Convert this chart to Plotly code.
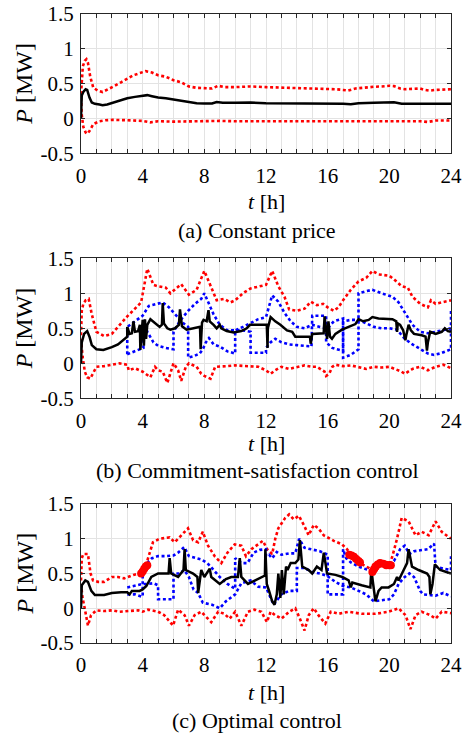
import plotly.graph_objects as go

# ---------------- data ----------------
# (a) Constant price
a_t_mean = [0, 0.05, 0.15, 0.3, 0.4, 0.55, 0.7, 0.9, 1.2, 1.4, 1.7, 2.0, 2.5, 3.0, 3.5, 4.0, 4.3, 4.6, 5.0, 5.5, 6.0, 6.5, 7.0, 7.5, 8.0, 8.5, 8.8, 9.2, 10, 11, 12, 13, 14, 15, 16, 17, 17.5, 18, 19, 20, 20.3, 20.8, 21.5, 22, 22.3, 23, 24]
a_mean = [0.0, 0.33, 0.38, 0.42, 0.41, 0.3, 0.23, 0.21, 0.2, 0.19, 0.2, 0.22, 0.26, 0.29, 0.31, 0.33, 0.335, 0.32, 0.3, 0.29, 0.27, 0.25, 0.23, 0.22, 0.215, 0.215, 0.235, 0.225, 0.225, 0.228, 0.22, 0.22, 0.215, 0.21, 0.21, 0.21, 0.205, 0.22, 0.225, 0.232, 0.232, 0.21, 0.21, 0.215, 0.205, 0.21, 0.21]
a_t_up = [0, 0.05, 0.12, 0.25, 0.35, 0.45, 0.6, 0.8, 1.1, 1.4, 1.8, 2.2, 2.6, 3.0, 3.4, 3.8, 4.2, 4.6, 5.0, 5.5, 6.0, 6.5, 7.0, 7.5, 8.0, 8.5, 8.9, 9.3, 10, 10.5, 11, 12, 13, 14, 15, 15.5, 16, 16.5, 17, 17.3, 17.8, 18.5, 19, 19.5, 20, 20.3, 20.7, 21, 21.5, 22, 22.3, 22.6, 23, 23.5, 24]
a_up = [0.35, 0.6, 0.75, 0.83, 0.85, 0.8, 0.6, 0.44, 0.4, 0.38, 0.42, 0.47, 0.52, 0.57, 0.62, 0.65, 0.68, 0.66, 0.62, 0.6, 0.55, 0.52, 0.46, 0.44, 0.43, 0.43, 0.47, 0.45, 0.45, 0.455, 0.46, 0.45, 0.445, 0.44, 0.435, 0.43, 0.42, 0.42, 0.41, 0.40, 0.43, 0.45, 0.455, 0.46, 0.47, 0.465, 0.43, 0.42, 0.42, 0.43, 0.41, 0.40, 0.41, 0.42, 0.42]
a_t_lo = [0, 0.05, 0.15, 0.3, 0.4, 0.55, 0.8, 1.2, 1.6, 2, 3, 4, 4.5, 5, 6, 7, 8, 9, 10, 11, 12, 13, 14, 15, 16, 17, 18, 19, 20, 21, 22, 22.5, 23, 24]
a_lo = [0.3, 0.05, -0.12, -0.2, -0.22, -0.18, -0.08, -0.04, -0.025, -0.02, -0.025, -0.035, -0.055, -0.04, -0.045, -0.04, -0.04, -0.035, -0.04, -0.04, -0.035, -0.035, -0.04, -0.04, -0.04, -0.04, -0.03, -0.04, -0.04, -0.04, -0.04, -0.05, -0.03, -0.03]

# (b) Commitment-satisfaction control
b_t_mean = [0, 0.05, 0.2, 0.4, 0.55, 0.7, 1.0, 1.45, 2.0, 2.4, 3.0, 3.0, 3.15, 3.3, 3.4, 3.5, 3.7, 3.82, 3.85, 3.95, 4.0, 4.08, 4.15, 4.22, 4.3, 4.5, 4.8, 5.1, 5.25, 5.3, 5.38, 5.6, 5.8, 6.1, 6.35, 6.42, 6.55, 6.85, 7.3, 7.72, 7.76, 7.85, 7.95, 8.15, 8.27, 8.35, 8.6, 8.8, 9.0, 9.1, 9.45, 9.9, 10.4, 10.75, 10.96, 11.5, 12.05, 12.1, 12.12, 12.3, 12.6, 12.93, 13.36, 13.7, 13.9, 14.5, 14.85, 14.9, 15.0, 15.74, 15.8, 15.96, 16.05, 16.15, 16.28, 16.5, 16.93, 17.36, 17.8, 18.0, 18.3, 18.66, 18.9, 19.3, 20.2, 20.45, 20.5, 20.55, 20.7, 20.9, 21.04, 21.1, 21.25, 21.4, 21.6, 22.1, 22.35, 22.44, 22.5, 22.65, 23.0, 23.4, 23.6, 23.8, 24]
b_mean = [0.0, 0.3, 0.42, 0.46, 0.38, 0.26, 0.2, 0.19, 0.23, 0.27, 0.38, 0.52, 0.42, 0.43, 0.6, 0.45, 0.46, 0.55, 0.19, 0.5, 0.62, 0.25, 0.63, 0.35, 0.55, 0.63, 0.57, 0.52, 0.55, 0.86, 0.57, 0.5, 0.48, 0.5, 0.55, 0.77, 0.53, 0.48, 0.5, 0.52, 0.2, 0.58, 0.62, 0.6, 0.76, 0.6, 0.55, 0.5, 0.55, 0.5, 0.46, 0.44, 0.46, 0.5, 0.55, 0.55, 0.55, 0.22, 0.5, 0.66, 0.6, 0.55, 0.47, 0.45, 0.38, 0.38, 0.38, 0.28, 0.42, 0.43, 0.67, 0.35, 0.6, 0.38, 0.35, 0.42, 0.48, 0.52, 0.56, 0.63, 0.6, 0.62, 0.66, 0.64, 0.63, 0.6, 0.45, 0.57, 0.55, 0.47, 0.33, 0.4, 0.55, 0.47, 0.42, 0.4, 0.38, 0.18, 0.3, 0.45, 0.42, 0.45, 0.5, 0.46, 0.45]
b_t_up = [0, 0.05, 0.15, 0.3, 0.5, 0.7, 1.0, 1.5, 2.0, 2.5, 3.0, 3.5, 3.9, 4.3, 4.7, 5.0, 5.5, 5.8, 6.3, 6.5, 7.0, 7.5, 8.0, 8.5, 8.8, 9.3, 9.7, 10.0, 10.5, 11.0, 11.6, 12.0, 12.4, 12.8, 13.2, 13.5, 14.0, 14.5, 14.9, 15.3, 15.7, 16.0, 16.4, 16.7, 17.0, 17.5, 18.0, 18.5, 18.9, 19.3, 20.0, 20.3, 20.8, 21.2, 21.5, 22.0, 22.5, 22.7, 23.0, 23.5, 24]
b_up = [0.4, 0.75, 0.85, 0.9, 0.92, 0.7, 0.45, 0.39, 0.42, 0.55, 0.67, 0.78, 0.87, 1.35, 1.12, 1.1, 1.08, 1.0, 1.1, 1.13, 0.98, 1.05, 1.32, 1.05, 0.9, 0.92, 0.87, 0.9, 1.0, 1.07, 1.1, 1.12, 1.32, 1.1, 0.95, 0.77, 0.75, 0.78, 0.88, 0.83, 0.85, 0.8, 0.75, 0.8, 0.9, 1.05, 1.17, 1.22, 1.32, 1.27, 1.25, 1.2, 1.1, 1.08, 0.95, 0.85, 0.8, 0.9, 0.85, 0.87, 0.9]
b_t_lo = [0, 0.1, 0.25, 0.4, 0.6, 1.0, 1.5, 2.0, 2.5, 3.0, 3.1, 3.5, 4.0, 4.5, 4.8, 5.0, 5.3, 5.6, 5.9, 6.0, 6.3, 6.5, 6.8, 7.0, 7.5, 7.8, 8.0, 8.4, 8.7, 9.0, 9.5, 10.0, 10.5, 11.0, 11.5, 12.0, 12.3, 12.6, 13.0, 13.5, 14.0, 14.5, 15.0, 15.3, 15.8, 15.9, 16.1, 16.3, 16.5, 17.0, 17.5, 18.0, 18.5, 19.0, 19.5, 20.0, 20.4, 20.8, 21.0, 21.5, 22.0, 22.5, 23.0, 23.5, 24.0]
b_lo = [0.35, 0.1, -0.12, -0.2, -0.22, -0.05, -0.04, -0.02, 0.0, -0.02, -0.1, -0.07, -0.12, -0.2, -0.05, -0.1, -0.12, -0.28, -0.05, 0.0, -0.1, -0.25, -0.05, 0.0, -0.05, -0.15, -0.18, -0.22, -0.05, -0.05, -0.04, -0.03, -0.04, -0.05, -0.05, -0.1, -0.15, -0.1, -0.05, -0.08, -0.05, -0.03, -0.05, -0.05, -0.12, -0.18, -0.15, -0.05, -0.02, -0.04, -0.03, -0.05, -0.08, -0.05, -0.06, -0.05, -0.08, -0.12, -0.15, -0.08, -0.05, -0.1, -0.05, -0.02, -0.07]
b_t_blue1 = [3, 3, 3.5, 4.0, 4.4, 4.8, 5.3, 5.7, 6.2, 6.6, 6.95, 6.95, 7.3, 7.7, 7.9, 8.1, 8.3, 8.6, 9.0, 9.5, 10.0, 10.0, 10.5, 11.0, 11.5, 12.0, 12.4, 12.8, 13.2, 13.6, 14.0, 14.5, 15.0, 15.5, 16.0, 16.4, 17.0, 17.0, 17.5, 18.0, 18.0, 18.5, 18.9, 19.5, 20.2, 20.6, 21.0, 21.5, 22.0, 22.5, 23.0, 23.5, 24.0]
b_blue1 = [0.13, 0.52, 0.6, 0.68, 0.82, 0.84, 0.87, 0.8, 0.68, 0.58, 0.52, 0.08, 0.1, 0.14, 0.2, 0.3, 0.36, 0.27, 0.24, 0.17, 0.14, 0.47, 0.52, 0.58, 0.63, 0.66, 0.97, 0.88, 0.72, 0.6, 0.52, 0.5, 0.55, 0.52, 0.5, 0.6, 0.64, 0.08, 0.12, 0.2, 1.0, 1.03, 1.05, 1.0, 0.95, 0.87, 0.72, 0.55, 0.45, 0.43, 0.45, 0.48, 0.5]
b_t_blue2 = [3.0, 3.5, 3.9, 4.05, 4.05, 4.3, 4.7, 5.0, 5.5, 6.0, 6.0, 6.4, 6.95, 7.4, 7.8, 8.0, 8.3, 8.6, 9.0, 9.5, 10.0, 10.5, 11.0, 11.0, 12.0, 12.0, 12.3, 12.6, 13.0, 13.5, 14.0, 14.5, 14.95, 15.0, 15.5, 15.9, 15.9, 16.3, 16.6, 17.0, 17.0, 17.5, 18.0, 18.5, 19.0, 19.5, 20.0, 20.5, 21.0, 21.5, 22.0, 22.5, 22.9, 23.3, 24.0, 24.0]
b_blue2 = [0.13, 0.17, 0.2, 0.22, 0.62, 0.45, 0.3, 0.25, 0.22, 0.2, 0.45, 0.6, 0.75, 0.85, 0.92, 1.0, 0.85, 0.7, 0.55, 0.47, 0.47, 0.47, 0.45, 0.15, 0.15, 0.22, 0.3, 0.35, 0.3, 0.27, 0.26, 0.25, 0.24, 0.68, 0.68, 0.68, 0.3, 0.22, 0.2, 0.18, 0.6, 0.62, 0.62, 0.57, 0.52, 0.5, 0.5, 0.48, 0.35, 0.27, 0.2, 0.14, 0.12, 0.14, 0.2, 0.77]

# (c) Optimal control
c_t_mean = [0, 0.05, 0.28, 0.45, 0.67, 0.9, 1.5, 2.0, 2.6, 3.0, 3.15, 3.3, 3.8, 4.0, 4.24, 4.56, 5.0, 5.5, 5.68, 5.75, 5.85, 6.3, 6.5, 6.65, 6.72, 6.8, 7.27, 7.55, 7.6, 7.8, 8.0, 8.35, 8.45, 9.0, 9.4, 9.75, 10.18, 10.3, 10.4, 10.83, 11.3, 11.7, 11.93, 11.96, 12.05, 12.2, 12.4, 12.55, 12.7, 12.8, 12.93, 13.03, 13.15, 13.3, 13.4, 13.6, 13.9, 14.1, 14.2, 14.35, 14.77, 15.0, 15.3, 15.6, 15.75, 15.96, 16.5, 16.95, 17.36, 17.5, 17.6, 18.2, 18.77, 18.83, 19.0, 19.1, 19.3, 19.5, 19.95, 20.3, 20.5, 20.6, 20.93, 21.15, 21.25, 21.47, 21.9, 22.45, 22.6, 22.66, 22.8, 22.95, 23.3, 24]
c_mean = [0.0, 0.33, 0.4, 0.38, 0.25, 0.19, 0.19, 0.22, 0.23, 0.23, 0.2, 0.25, 0.25, 0.27, 0.32, 0.45, 0.5, 0.5, 0.5, 0.72, 0.5, 0.45, 0.5, 0.55, 0.85, 0.55, 0.5, 0.45, 0.22, 0.55, 0.45, 0.57, 0.45, 0.35, 0.42, 0.45, 0.45, 0.72, 0.45, 0.35, 0.4, 0.45, 0.47, 0.85, 0.35, 0.25, 0.1, 0.05, 0.2, 0.5, 0.15, 0.55, 0.2, 0.6, 0.55, 0.65, 0.65, 0.7, 0.98, 0.6, 0.55, 0.5, 0.6, 0.55, 0.8, 0.5, 0.48, 0.45, 0.4, 0.3, 0.37, 0.33, 0.3, 0.55, 0.25, 0.1, 0.25, 0.3, 0.3, 0.35, 0.45, 0.4, 0.55, 0.65, 0.85, 0.6, 0.55, 0.5, 0.45, 0.2, 0.35, 0.63, 0.55, 0.5]
c_t_up = [0, 0.05, 0.15, 0.3, 0.45, 0.62, 0.78, 1.1, 1.5, 2.0, 2.4, 2.8, 3.4, 3.8, 4.2, 4.35, 4.67, 5.1, 5.75, 6.08, 6.5, 6.94, 7.27, 7.6, 7.9, 8.24, 8.67, 9.1, 9.5, 9.97, 10.4, 10.7, 11.05, 11.6, 11.8, 12.07, 12.4, 12.6, 12.8, 13.25, 13.5, 13.8, 14.13, 14.45, 14.77, 15.1, 15.4, 15.74, 15.96, 16.4, 16.93, 17.25, 17.5, 17.9, 18.1, 18.66, 19.0, 19.5, 20.0, 20.2, 20.5, 20.8, 21.25, 21.7, 22.1, 22.55, 23.0, 23.4, 24.0]
c_up = [0.4, 0.72, 0.78, 0.78, 0.78, 0.5, 0.4, 0.38, 0.38, 0.45, 0.45, 0.43, 0.48, 0.5, 0.6, 0.72, 0.95, 1.0, 1.02, 0.95, 1.05, 1.15, 0.98, 0.95, 1.1, 0.9, 0.75, 0.65, 0.8, 0.92, 0.9, 0.75, 0.85, 0.93, 0.97, 0.85, 0.78, 1.0, 1.15, 1.3, 1.35, 1.28, 1.33, 1.2, 1.05, 1.2, 1.15, 1.05, 1.02, 0.97, 0.92, 0.85, 0.78, 0.72, 0.65, 0.58, 0.52, 0.62, 0.62, 0.75, 1.0, 1.3, 1.25, 1.05, 1.1, 1.05, 1.25, 1.1, 1.0]
c_t_lo = [0, 0.1, 0.24, 0.45, 0.65, 1.0, 1.5, 2.0, 2.5, 3.0, 3.7, 4.0, 4.35, 5.0, 5.4, 5.97, 6.3, 6.72, 7.0, 7.37, 7.8, 8.1, 8.45, 8.9, 9.3, 9.64, 10.0, 10.4, 10.83, 11.26, 11.7, 12.06, 12.3, 12.6, 13.0, 13.5, 13.9, 14.2, 14.5, 14.77, 15.1, 15.4, 15.85, 16.2, 16.7, 17.36, 18.2, 19.1, 19.95, 20.6, 21.05, 21.37, 21.7, 22.1, 22.66, 23.0, 23.4, 24.0]
c_lo = [0.35, 0.15, 0.0, -0.25, -0.1, -0.03, -0.04, -0.03, -0.05, -0.04, -0.03, -0.05, -0.02, -0.05, -0.1, -0.25, -0.02, -0.1, -0.25, -0.1, -0.05, -0.12, -0.2, -0.05, -0.08, -0.15, -0.05, -0.25, -0.05, -0.02, -0.05, -0.2, -0.05, -0.1, -0.15, -0.05, 0.0, -0.15, -0.32, -0.1, 0.0, -0.1, -0.22, -0.05, -0.08, -0.05, -0.08, -0.08, -0.05, 0.0, -0.1, -0.3, -0.1, -0.05, -0.1, -0.15, -0.05, -0.07]
c_t_blue1 = [3.0, 3.5, 3.9, 4.0, 4.0, 4.3, 4.6, 5.0, 5.5, 6.0, 6.3, 6.7, 7.0, 7.4, 7.8, 8.2, 8.6, 9.0, 9.5, 10.0, 10.0, 10.4, 10.8, 11.2, 11.6, 12.0, 12.0, 12.2, 12.4, 12.7, 13.0, 13.5, 13.9, 14.15, 14.5, 15.0, 15.5, 16.0, 16.0, 16.5, 17.0, 17.0, 17.2, 17.5, 18.0, 18.5, 19.0, 19.5, 20.0, 20.3, 20.7, 21.0, 21.3, 21.6, 22.0, 22.5, 22.9, 23.0, 23.5, 24.0, 24.0]
c_blue1 = [0.2, 0.2, 0.17, 0.17, 0.55, 0.65, 0.72, 0.75, 0.75, 0.76, 0.8, 0.88, 0.75, 0.72, 0.7, 0.65, 0.55, 0.45, 0.35, 0.28, 0.72, 0.65, 0.65, 0.8, 0.84, 0.85, 0.75, 0.77, 0.72, 0.81, 0.77, 0.79, 0.79, 1.0, 0.87, 0.85, 0.82, 0.77, 0.2, 0.2, 0.2, 0.85, 0.72, 0.66, 0.6, 0.56, 0.53, 0.64, 0.65, 0.68, 0.85, 0.9, 0.78, 0.82, 0.83, 0.85, 0.93, 0.6, 0.57, 0.55, 0.75]
c_t_blue2 = [3.0, 3.5, 4.0, 4.3, 4.7, 5.0, 5.0, 5.5, 6.0, 6.0, 6.4, 6.7, 7.0, 7.3, 7.6, 7.9, 8.5, 9.0, 9.4, 10.0, 10.4, 11.0, 11.5, 12.0, 12.5, 13.0, 13.5, 14.0, 14.0, 14.5, 15.0, 15.5, 16.0, 16.5, 17.0, 17.5, 18.0, 18.5, 19.0, 19.5, 20.0, 20.3, 20.6, 21.0, 21.3, 21.6, 22.0, 22.2, 23.0, 23.5, 24.0]
c_blue2 = [0.3, 0.33, 0.35, 0.35, 0.36, 0.33, 0.13, 0.13, 0.13, 0.5, 0.5, 0.55, 0.45, 0.27, 0.22, 0.08, 0.05, 0.0, 0.1, 0.2, 0.36, 0.4, 0.31, 0.3, 0.05, 0.2, 0.25, 0.25, 0.58, 0.58, 0.52, 0.5, 0.46, 0.38, 0.32, 0.3, 0.25, 0.2, 0.1, 0.12, 0.13, 0.2, 0.35, 0.45, 0.5, 0.45, 0.25, 0.2, 0.18, 0.22, 0.17]
c_t_mark1 = [3.9, 4.0, 4.1, 4.2, 4.3]
c_mark1 = [0.5, 0.53, 0.57, 0.6, 0.62]
c_t_mark2 = [17.4, 17.55, 17.7, 17.85, 18.0, 18.1]
c_mark2 = [0.77, 0.76, 0.74, 0.71, 0.68, 0.66]
c_t_mark3 = [18.9, 19.0, 19.1, 19.25, 19.4, 19.6, 19.8, 20.0, 20.1]
c_mark3 = [0.52, 0.56, 0.6, 0.63, 0.65, 0.64, 0.62, 0.62, 0.62]

x_tick_vals = list(range(0, 25))
x_tick_text = [str(v) if v % 4 == 0 else "" for v in x_tick_vals]
y_tick_vals = [-0.5, 0, 0.5, 1, 1.5]
y_tick_text = ["-0.5", "0", "0.5", "1", "1.5"]
captions = ["(a) Constant price", "(b) Commitment-satisfaction control", "(c) Optimal control"]

# ---------------- layout geometry ----------------
W, H = 463, 737
ML, MR, MT, MB = 81, 12, 14, 94
PW, PH = W - ML - MR, H - MT - MB


def px2x(px):
    return (px - ML) / PW


def py2y(py):
    return 1 - (py - MT) / PH


def clamp(v):
    return min(1.0, max(0.0, v))


panel_top = [14, 258.3, 504]
panel_bot = [153.3, 398.3, 643]
xlab_y = [202, 443, 692]
cap_y = [230, 470, 720]

FONT = "Liberation Serif"
RED = "rgb(255,0,0)"
BLUE = "rgb(0,0,255)"
AXC = "#262626"
GRID = "#e3e3e3"

fig = go.Figure()


def add_line(i, t, v, color, dash, width):
    sfx = "" if i == 0 else str(i + 1)
    fig.add_trace(go.Scatter(x=t, y=v, mode="lines", xaxis="x" + sfx, yaxis="y" + sfx,
                             line=dict(color=color, dash=dash, width=width), showlegend=False,
                             hoverinfo="skip"))


def add_blob(i, t, v):
    sfx = "" if i == 0 else str(i + 1)
    fig.add_trace(go.Scatter(x=t, y=v, mode="lines+markers", xaxis="x" + sfx, yaxis="y" + sfx,
                             line=dict(color=RED, width=7), marker=dict(color=RED, size=8),
                             showlegend=False, hoverinfo="skip"))


DOT = "3px,2.6px"
# panel a
add_line(0, a_t_up, a_up, RED, DOT, 2.6)
add_line(0, a_t_lo, a_lo, RED, DOT, 2.6)
add_line(0, a_t_mean, a_mean, "black", "solid", 2.5)
# panel b
add_line(1, b_t_up, b_up, RED, DOT, 2.6)
add_line(1, b_t_lo, b_lo, RED, DOT, 2.6)
add_line(1, b_t_blue1, b_blue1, BLUE, DOT, 2.6)
add_line(1, b_t_blue2, b_blue2, BLUE, DOT, 2.6)
add_line(1, b_t_mean, b_mean, "black", "solid", 2.5)
# panel c
add_line(2, c_t_up, c_up, RED, DOT, 2.6)
add_line(2, c_t_lo, c_lo, RED, DOT, 2.6)
add_line(2, c_t_blue1, c_blue1, BLUE, DOT, 2.6)
add_line(2, c_t_blue2, c_blue2, BLUE, DOT, 2.6)
add_line(2, c_t_mean, c_mean, "black", "solid", 2.5)
add_blob(2, c_t_mark1, c_mark1)
add_blob(2, c_t_mark2, c_mark2)
add_blob(2, c_t_mark3, c_mark3)

layout = dict(width=W, height=H, margin=dict(l=ML, r=MR, t=MT, b=MB, pad=0, autoexpand=False),
              paper_bgcolor="white", plot_bgcolor="white",
              font=dict(family=FONT, size=20, color="black"), showlegend=False)

annotations = []
for i in range(3):
    sfx = "" if i == 0 else str(i + 1)
    ydom = [clamp(py2y(panel_bot[i])), clamp(py2y(panel_top[i]))]
    layout["xaxis" + sfx] = dict(domain=[0, 1], anchor="y" + sfx, range=[0, 24], automargin=False,
                                 tickmode="array", tickvals=x_tick_vals, ticktext=x_tick_text,
                                 ticks="inside", ticklen=4, tickcolor=AXC, tickwidth=1,
                                 showline=True, linecolor=AXC, linewidth=1, mirror="ticks",
                                 showgrid=True, gridcolor=GRID, gridwidth=1, zeroline=False,
                                 tickfont=dict(family=FONT, size=21), ticklabelstandoff=3)
    layout["yaxis" + sfx] = dict(domain=ydom, anchor="x" + sfx, range=[-0.5, 1.5], automargin=False,
                                 tickmode="array", tickvals=y_tick_vals, ticktext=y_tick_text,
                                 ticks="inside", ticklen=4, tickcolor=AXC, tickwidth=1,
                                 showline=True, linecolor=AXC, linewidth=1, mirror="ticks",
                                 showgrid=True, gridcolor=GRID, gridwidth=1, zeroline=False,
                                 tickfont=dict(family=FONT, size=21), ticklabelstandoff=2)
    annotations.append(dict(text="<i>P</i> [MW]", xref="paper", yref="paper",
                            x=px2x(24), y=py2y((panel_top[i] + panel_bot[i]) / 2),
                            xanchor="center", yanchor="middle", textangle=-90, showarrow=False,
                            font=dict(family=FONT, size=24)))
    annotations.append(dict(text="<i>t</i> [h]", xref="paper", yref="paper",
                            x=px2x(266), y=py2y(xlab_y[i]), xanchor="center", yanchor="middle",
                            showarrow=False, font=dict(family=FONT, size=22)))
    annotations.append(dict(text=captions[i], xref="paper", yref="paper",
                            x=px2x(257), y=py2y(cap_y[i]), xanchor="center", yanchor="middle",
                            showarrow=False, font=dict(family=FONT, size=22)))

layout["annotations"] = annotations
fig.update_layout(**layout)
# remove the browser's default 8 px page margin so the figure sits at the window origin
fig.write_html("out.html", config={"displayModeBar": False},
               post_script="document.body.style.margin='0px';")
